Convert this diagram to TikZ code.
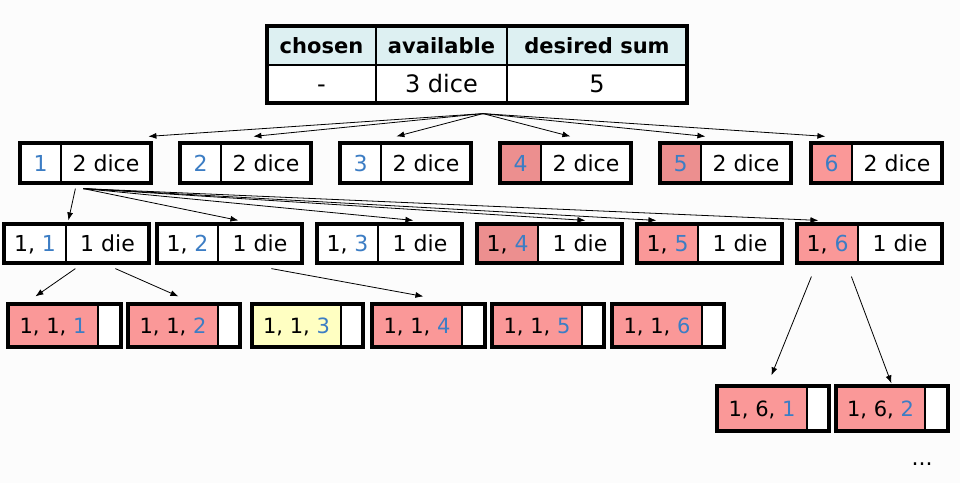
\documentclass[tikz,border=0pt]{standalone}
\usepackage{fontspec}
\setmainfont{DejaVu Sans}
\usetikzlibrary{fit,arrows.meta,calc}
\definecolor{dblue}{HTML}{3C7DC4}
\definecolor{salA}{HTML}{EC8F8F}
\definecolor{salB}{HTML}{FA9898}
\definecolor{yel}{HTML}{FFFFC2}
\definecolor{hdr}{HTML}{DDF0F2}
\definecolor{bg}{HTML}{FCFCFC}
\newcommand\tbox[9]{%
  \pgfmathsetmacro\tbwl{#3-#2}\pgfmathsetmacro\tbwr{#4-#3}\pgfmathsetmacro\tbhh{#6-#5}%
  \node[cell, fill=#7, minimum width=\tbwl pt, minimum height=\tbhh pt] (#1l) at (#2,#5) {#8};
  \node[cell, minimum width=\tbwr pt, minimum height=\tbhh pt] (#1r) at (#3,#5) {#9};
  \node[outerbox, fit=(#1l)(#1r)] (#1) {};
}
\newcommand\bl[1]{\textcolor{dblue}{#1}}
\def\cellth{16pt}
\begin{document}
\begin{tikzpicture}[x=1pt,y=-1pt,
  font=\fontsize{22}{24}\selectfont,
  cell/.style={draw, line width=1.1pt, anchor=north west, inner sep=0pt, outer sep=0pt, fill=white, text height=\cellth, text depth=0pt},
  outerbox/.style={draw, line width=3.2pt, inner sep=0pt},
  small/.style={font=\fontsize{21}{23}\selectfont},
  big/.style={font=\fontsize{24}{26}\selectfont, text height=17.5pt},
  head/.style={font=\fontsize{21}{23}\selectfont\bfseries, fill=hdr, text height=15.3pt},
  arr/.style={line width=0.8pt, -{Latex[length=8pt,width=6pt]}}]
\fill[bg] (0,0) rectangle (960,483);
\useasboundingbox (0,0) rectangle (960,483);
% root table
\node[cell, head, minimum width=109pt, minimum height=39pt] (t11) at (267,26) {chosen};
\node[cell, head, minimum width=131pt, minimum height=39pt] (t12) at (376,26) {available};
\node[cell, head, minimum width=180pt, minimum height=39pt] (t13) at (507,26) {desired sum};
\node[cell, big, minimum width=109pt, minimum height=38pt] (t21) at (267,65) {-};
\node[cell, big, minimum width=131pt, minimum height=38pt] (t22) at (376,65) {3 dice};
\node[cell, big, minimum width=180pt, minimum height=38pt] (t23) at (507,65) {5};
\node[outerbox, fit=(t11)(t23)] (root) {};
% level 1
\tbox{b1}{20}{61}{151}{143}{183}{white}{\bl{1}}{2 dice}
\tbox{b2}{180}{221}{311}{143}{183}{white}{\bl{2}}{2 dice}
\tbox{b3}{340}{381}{471}{143}{183}{white}{\bl{3}}{2 dice}
\tbox{b4}{500}{541}{631}{143}{183}{salA}{\bl{4}}{2 dice}
\tbox{b5}{660}{701}{791}{143}{183}{salA}{\bl{5}}{2 dice}
\tbox{b6}{811}{852}{942}{143}{183}{salB}{\bl{6}}{2 dice}
% level 2
\tbox{c1}{4}{66}{149}{224}{263}{white}{1, \bl{1}}{1 die}
\tbox{c2}{157}{218}{302}{224}{263}{white}{1, \bl{2}}{1 die}
\tbox{c3}{317}{378}{462}{224}{263}{white}{1, \bl{3}}{1 die}
\tbox{c4}{477}{538}{622}{224}{263}{salA}{1, \bl{4}}{1 die}
\tbox{c5}{637}{698}{782}{224}{263}{salB}{1, \bl{5}}{1 die}
\tbox{c6}{797}{858}{942}{224}{263}{salB}{1, \bl{6}}{1 die}
% level 3
\begin{scope}[small]
\def\cellth{15.3pt}
\tbox{d1}{8}{98}{121}{304}{347}{salB}{1, 1, \bl{1}}{}
\tbox{d2}{128}{218}{240}{304}{347}{salB}{1, 1, \bl{2}}{}
\tbox{d3}{252}{341}{363}{304}{347}{yel}{1, 1, \bl{3}}{}
\tbox{d4}{372}{462}{485}{304}{347}{salB}{1, 1, \bl{4}}{}
\tbox{d5}{492}{582}{604}{304}{347}{salB}{1, 1, \bl{5}}{}
\tbox{d6}{612}{702}{724}{304}{347}{salB}{1, 1, \bl{6}}{}
% level 4
\tbox{e1}{717}{807}{829}{386}{431}{salB}{1, 6, \bl{1}}{}
\tbox{e2}{836}{925}{948}{386}{431}{salB}{1, 6, \bl{2}}{}
\end{scope}
\node (dots) at (922,464) {...};
% arrows root -> level 1
\coordinate (rs) at ([xshift=6pt,yshift=-9pt]root.south);
\draw[arr] (rs) -- ([xshift=130pt,yshift=5pt]b1.north west);
\draw[arr] (rs) -- ([xshift=75pt,yshift=5pt]b2.north west);
\draw[arr] (rs) -- ([xshift=58pt,yshift=5pt]b3.north west);
\draw[arr] (rs) -- ([xshift=72pt,yshift=5pt]b4.north west);
\draw[arr] (rs) -- ([xshift=47pt,yshift=5pt]b5.north west);
\draw[arr] (rs) -- ([xshift=16pt,yshift=5pt]b6.north west);
% b1 -> level 2
\coordinate (s1) at ([xshift=57pt,yshift=-4pt]b1.south west);
\coordinate (s2) at ([xshift=65pt,yshift=-4pt]b1.south west);
\draw[arr] (s1) -- ([xshift=66pt,yshift=2pt]c1.north west);
\draw[arr] (s2) -- ([xshift=83pt,yshift=2pt]c2.north west);
\draw[arr] (s2) -- ([xshift=98pt,yshift=2pt]c3.north west);
\draw[arr] (s2) -- ([xshift=110pt,yshift=2pt]c4.north west);
\draw[arr] (s2) -- ([xshift=21pt,yshift=2pt]c5.north west);
\draw[arr] (s2) -- ([xshift=23pt,yshift=2pt]c6.north west);
% level 2 -> level 3
\draw[arr] ([xshift=73pt,yshift=-4pt]c1.south west) -- ([xshift=29pt,yshift=6pt]d1.north west);
\draw[arr] ([xshift=113pt,yshift=-4pt]c1.south west) -- ([xshift=52pt,yshift=6pt]d2.north west);
\draw[arr] ([xshift=116pt,yshift=-4pt]c2.south west) -- ([xshift=53pt,yshift=6pt]d4.north west);
\draw[arr] ([xshift=16pt,yshift=-12pt]c6.south west) -- ([xshift=56pt,yshift=9pt]e1.north west);
\draw[arr] ([xshift=56pt,yshift=-12pt]c6.south west) -- ([xshift=57pt,yshift=1pt]e2.north west);
\end{tikzpicture}
\end{document}
